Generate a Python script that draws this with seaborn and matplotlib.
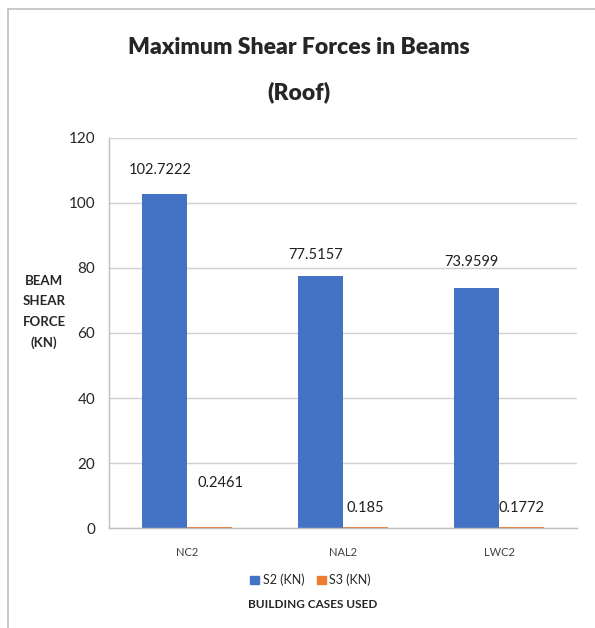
import matplotlib
matplotlib.use("Agg")
import matplotlib.pyplot as plt
from matplotlib.patches import Rectangle
from matplotlib.lines import Line2D
import seaborn as sns
import pandas as pd

cases = ["NC2", "NAL2", "LWC2"]
s2_values = [102.7222, 77.5157, 73.9599]
s3_values = [0.2461, 0.185, 0.1772]
s2_labels = ["102.7222", "77.5157", "73.9599"]
s3_labels = ["0.2461", "0.185", "0.1772"]
series_names = ["S2 (KN)", "S3 (KN)"]
y_ticks = [0, 20, 40, 60, 80, 100, 120]

# label heights above the bars (in data units)
s2_label_y = [110.2, 84.0, 81.8]
s3_label_y = [13.8, 6.2, 6.2]

df = pd.DataFrame({
    "case": cases * 2,
    "series": [series_names[0]] * 3 + [series_names[1]] * 3,
    "value": s2_values + s3_values,
})

sns.set_theme(style="white")
FONT = ["Lato", "DejaVu Sans"]
plt.rcParams["font.family"] = FONT

fig = plt.figure(figsize=(5.95, 6.28), dpi=100)
ax = fig.add_axes([0.1832, 0.1592, 0.9697 - 0.1832, 0.7803 - 0.1592])

palette = {series_names[0]: "#4472C4", series_names[1]: "#ED7D31"}
sns.barplot(data=df, x="case", y="value", hue="series", order=cases,
            hue_order=series_names, palette=palette, width=0.575, gap=0,
            saturation=1, ax=ax, legend=False, edgecolor="none")

ax.set_ylim(0, 120)
ax.set_xlim(-0.5, 2.5)
ax.set_yticks(y_ticks)
ax.set_yticklabels([str(t) for t in y_ticks], fontsize=11, color="#262626")
ax.tick_params(axis="x", labelsize=8, colors="#404040", length=0, pad=14)
ax.tick_params(axis="y", length=0, pad=10)
ax.yaxis.grid(True, color="#d0d0d0", linewidth=1)
ax.set_axisbelow(True)
for side in ["top", "right"]:
    ax.spines[side].set_visible(False)
for side in ["left", "bottom"]:
    ax.spines[side].set_color("#bfbfbf")
    ax.spines[side].set_linewidth(1)
ax.set_xlabel("")
ax.set_ylabel("")

bw = 0.575 / 2
for i in range(3):
    ax.text(i - bw / 2 - 0.03, s2_label_y[i], s2_labels[i], ha="center",
            va="center", fontsize=10.5, color="#202020")
    ax.text(i + bw / 2 + (0.07 if i == 0 else 0.0), s3_label_y[i], s3_labels[i],
            ha="center", va="center", fontsize=10.5, color="#202020")

fig.text(0.503, 1 - 47 / 628, "Maximum Shear Forces in Beams", ha="center",
         va="center", fontsize=16.5, fontweight="heavy")
fig.text(0.503, 1 - 92 / 628, "(Roof)", ha="center",
         va="center", fontsize=16.5, fontweight="heavy")
fig.text(0.074, 1 - 312 / 628, "BEAM\nSHEAR\nFORCE\n(KN)", ha="center", va="center",
         fontsize=9.5, fontweight="bold", linespacing=1.85)
fig.text(0.526, 1 - 605 / 628, "BUILDING CASES USED", ha="center", va="center",
         fontsize=8.5, fontweight="bold")

# legend
handles = [Rectangle((0, 0), 1, 1, color=palette[n]) for n in series_names]
fig.legend(handles, series_names, loc="center", bbox_to_anchor=(0.522, 1 - 580 / 628),
           ncol=2, frameon=False, fontsize=9, handlelength=0.7, handleheight=0.7,
           handletextpad=0.3, columnspacing=1.0)

# chart border (left and top edges)
bx, by = 7.5 / 595, 1 - 8.5 / 628
fig.add_artist(Line2D([bx, bx], [0, by], transform=fig.transFigure,
                      color="#bfbfbf", linewidth=1.2))
fig.add_artist(Line2D([bx, 1], [by, by], transform=fig.transFigure,
                      color="#bfbfbf", linewidth=1.2))

fig.savefig("out.png", dpi=100, facecolor="white")
